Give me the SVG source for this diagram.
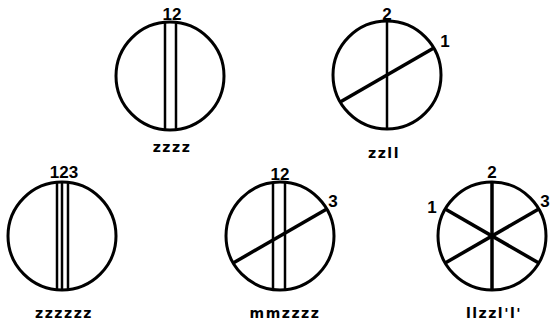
<svg xmlns="http://www.w3.org/2000/svg" width="551" height="328" viewBox="0 0 551 328">
<style>
.c{fill:none;stroke:#000;stroke-width:3}
.l{stroke:#000;stroke-width:2.5;fill:none}
.d{stroke:#000;stroke-width:3.5;fill:none}
.n{font-family:"Liberation Sans",Arial,sans-serif;font-weight:bold;font-size:17px;fill:#000;text-anchor:middle}
.t{font-family:"DejaVu Sans",sans-serif;font-weight:bold;font-size:14px;fill:#000;text-anchor:middle;letter-spacing:1.5px}
</style>
<rect width="551" height="328" fill="#fff"/>
<g id="node-zzzz">
<circle class="c" cx="170" cy="76" r="54"/>
<text class="n" x="172" y="20">12</text>
<text class="t" x="172" y="152">zzzz</text>
</g>
<g id="node-zzll">
<circle class="c" cx="387" cy="75" r="54"/>
<text class="n" x="387" y="20">2</text>
<text class="n" x="445" y="47">1</text>
<text class="t" x="384" y="158">zzll</text>
</g>
<g id="node-zzzzzz">
<circle class="c" cx="62" cy="236" r="54"/>
<text class="n" x="64" y="178">123</text>
<text class="t" x="64" y="318">zzzzzz</text>
</g>
<g id="node-mmzzzz">
<circle class="c" cx="280" cy="236" r="54"/>
<text class="n" x="280" y="180">12</text>
<text class="n" x="333" y="207">3</text>
<text class="t" x="285" y="318">mmzzzz</text>
</g>
<g id="node-llzzlplp">
<circle class="c" cx="492" cy="236" r="54"/>
<text class="n" x="432" y="213">1</text>
<text class="n" x="492" y="178">2</text>
<text class="n" x="545" y="207">3</text>
<text class="t" x="494" y="318">llzzl'l'</text>
</g>
<g id="connectors">
<line class="l" x1="165" y1="22.3" x2="165" y2="129.7"/>
<line class="l" x1="176" y1="22.3" x2="176" y2="129.7"/>
<line class="l" x1="387" y1="21" x2="387" y2="129"/>
<line class="d" x1="340.2" y1="102" x2="433.8" y2="48"/>
<line class="l" x1="57" y1="182.2" x2="57" y2="289.8"/>
<line class="l" x1="62" y1="182" x2="62" y2="290"/>
<line class="l" x1="68" y1="182.3" x2="68" y2="289.7"/>
<line class="l" x1="273" y1="182.5" x2="273" y2="289.5"/>
<line class="l" x1="285" y1="182.2" x2="285" y2="289.8"/>
<line class="d" x1="233.2" y1="263" x2="326.8" y2="209"/>
<line class="d" x1="492" y1="182" x2="492" y2="290"/>
<line class="d" x1="445.2" y1="209" x2="538.8" y2="263"/>
<line class="d" x1="445.2" y1="263" x2="538.8" y2="209"/>
</g>
</svg>
